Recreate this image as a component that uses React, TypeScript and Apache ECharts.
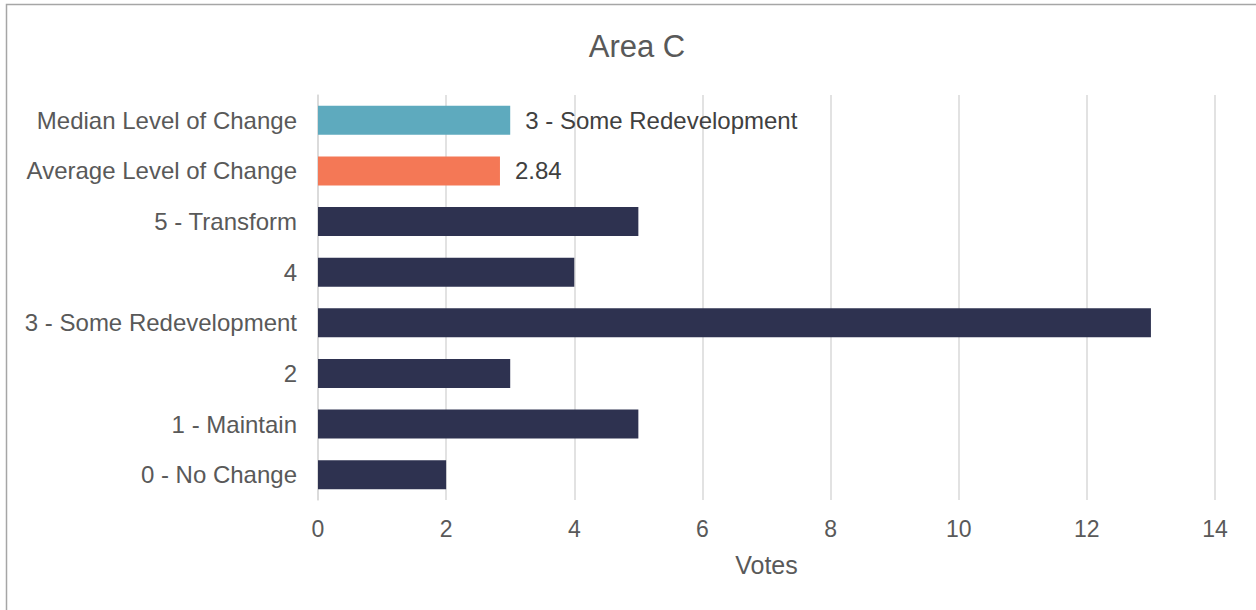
import React, { useEffect, useRef } from "react";
import * as echarts from "echarts";

const categories = [
  "0 - No Change",
  "1 - Maintain",
  "2",
  "3 - Some Redevelopment",
  "4",
  "5 - Transform",
  "Average Level of Change",
  "Median Level of Change",
];
const votes = [2, 5, 3, 13, 4, 5, 2.84, 3];
const barColors = [
  "#2E3250",
  "#2E3250",
  "#2E3250",
  "#2E3250",
  "#2E3250",
  "#2E3250",
  "#F47856",
  "#5EAABE",
];
const barLabels = ["", "", "", "", "", "", "2.84", "3 - Some Redevelopment"];
const xTicks = [0, 2, 4, 6, 8, 10, 12, 14];

const FONT = "Arial, Liberation Sans, sans-serif";

export default function App() {
  const ref = useRef<HTMLDivElement>(null);
  useEffect(() => {
    if (!ref.current) return;
    const chart = echarts.init(ref.current, undefined, { renderer: "svg" });
    chart.setOption({
      animation: false,
      backgroundColor: "#ffffff",
      textStyle: { fontFamily: FONT },
      title: {
        text: "Area C",
        left: 632,
        top: 26,
        textAlign: "center",
        textStyle: { fontFamily: FONT, fontSize: 31, fontWeight: "normal", color: "#595959" },
      },
      graphic: [
        {
          type: "rect",
          shape: { x: 6.5, y: 4.5, width: 1400, height: 800 },
          style: { fill: "none", stroke: "#A6A6A6", lineWidth: 1.5 },
          silent: true,
          z: 100,
        },
      ],
      grid: { left: 318, right: 41, top: 95, bottom: 110, containLabel: false },
      xAxis: {
        type: "value",
        min: xTicks[0],
        max: xTicks[xTicks.length - 1],
        interval: 2,
        name: "Votes",
        nameLocation: "middle",
        nameGap: 52,
        nameTextStyle: { fontFamily: FONT, fontSize: 25, color: "#595959" },
        axisLine: { show: false },
        axisTick: { show: false },
        axisLabel: { fontFamily: FONT, fontSize: 23, color: "#595959", margin: 17 },
        splitLine: { show: true, lineStyle: { color: "#D9D9D9", width: 1.5 } },
      },
      yAxis: {
        type: "category",
        data: categories,
        axisLine: { show: true, lineStyle: { color: "#D9D9D9", width: 1.5 } },
        axisTick: { show: false },
        axisLabel: { fontFamily: FONT, fontSize: 24, color: "#595959", margin: 21 },
      },
      series: [
        {
          type: "bar",
          barWidth: 29,
          data: votes.map((v, i) => ({
            value: v,
            itemStyle: { color: barColors[i] },
            label: {
              show: barLabels[i] !== "",
              position: "right",
              distance: 15,
              formatter: () => barLabels[i],
              fontFamily: FONT,
              fontSize: 24,
              color: "#404040",
            },
          })),
        },
      ],
    });
    return () => chart.dispose();
  }, []);
  return (
    <div
      ref={ref}
      style={{ position: "absolute", left: 0, top: 0, width: 1256, height: 610 }}
    />
  );
}
